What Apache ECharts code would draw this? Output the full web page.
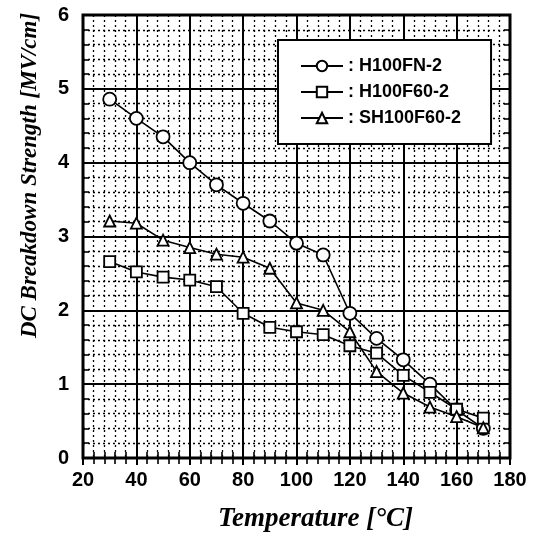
<!DOCTYPE html>
<html>
<head>
<meta charset="utf-8">
<script src="https://cdn.jsdelivr.net/npm/echarts@6/dist/echarts.min.js"></script>
<style>
  html, body { margin: 0; padding: 0; background: #fff; }
  #chart { width: 542px; height: 539px; }
</style>
</head>
<body>
<div id="chart"></div>
<script>
  // temperature [°C]
  var temps = [30, 40, 50, 60, 70, 80, 90, 100, 110, 120, 130, 140, 150, 160, 170];
  // DC breakdown strength [MV/cm]
  var h100fn = [4.86, 4.6, 4.35, 4.0, 3.7, 3.45, 3.21, 2.91, 2.75, 1.96, 1.62, 1.33, 1.0, 0.65, 0.4];
  var h100f60 = [2.66, 2.52, 2.45, 2.41, 2.32, 1.96, 1.77, 1.71, 1.67, 1.52, 1.42, 1.12, 0.89, 0.66, 0.54];
  var sh100f60 = [3.21, 3.18, 2.95, 2.85, 2.76, 2.72, 2.57, 2.1, 2.0, 1.71, 1.17, 0.88, 0.69, 0.56, 0.41];
  var names = ['H100FN-2', 'H100F60-2', 'SH100F60-2'];

  function pairs(ys) {
    return temps.map(function (t, i) { return [t, ys[i]]; });
  }

  var chart = echarts.init(document.getElementById('chart'));

  var tickFont = { fontFamily: 'Liberation Sans', fontWeight: 'bold', fontSize: 20, color: '#000' };
  var nameFont = { fontFamily: 'Liberation Serif', fontStyle: 'italic', fontWeight: 'bold', color: '#000' };

  function mkSeries(name, ys, symbol, size) {
    return {
      name: name,
      type: 'line',
      data: pairs(ys),
      symbol: symbol,
      symbolSize: size,
      lineStyle: { color: '#000', width: 1.6 },
      itemStyle: { color: '#fff', borderColor: '#000', borderWidth: 1.8 },
      z: 5
    };
  }

  var inTick = { show: true, inside: true, length: 7, lineStyle: { color: '#000', width: 2 } };
  var inMinor = { show: true, splitNumber: 5, length: 6, lineStyle: { color: '#000', width: 1.6 } };

  chart.setOption({
    animation: false,
    grid: {
      left: 83, right: 32, top: 15, bottom: 81,
      show: true, borderColor: '#000', borderWidth: 3
    },
    legend: {
      orient: 'vertical',
      left: 278, top: 40,
      padding: [17, 30, 17, 22],
      itemGap: 8,
      itemWidth: 42,
      itemHeight: 13,
      backgroundColor: '#fff',
      borderColor: '#000',
      borderWidth: 2,
      data: names,
      formatter: function (n) { return ': ' + n; },
      textStyle: { fontFamily: 'Liberation Sans', fontWeight: 'bold', fontSize: 18, color: '#000' },
      z: 10
    },
    xAxis: [{
      type: 'value',
      min: 20, max: 180, interval: 20,
      name: 'Temperature [°C]',
      nameLocation: 'middle',
      nameGap: 48,
      nameTextStyle: Object.assign({ fontSize: 27, padding: [0, 0, 0, 38] }, nameFont),
      axisLine: { show: false },
      axisTick: inTick,
      minorTick: inMinor,
      axisLabel: Object.assign({ margin: 12 }, tickFont),
      splitLine: { show: true, lineStyle: { color: '#000', width: 2 } },
      minorSplitLine: { show: true, lineStyle: { color: '#000', width: 1.3, type: [2, 3] } }
    }, {
      type: 'value', position: 'top',
      min: 20, max: 180, interval: 20,
      axisLine: { show: false },
      axisTick: inTick,
      minorTick: inMinor,
      axisLabel: { show: false },
      splitLine: { show: false }
    }],
    yAxis: [{
      type: 'value',
      min: 0, max: 6, interval: 1,
      name: 'DC Breakdown Strength [MV/cm]',
      nameLocation: 'middle',
      nameGap: 41,
      nameTextStyle: Object.assign({ fontSize: 23, padding: [0, 0, 0, 122] }, nameFont),
      axisLine: { show: false },
      axisTick: inTick,
      minorTick: inMinor,
      axisLabel: Object.assign({ margin: 14 }, tickFont),
      splitLine: { show: true, lineStyle: { color: '#000', width: 2 } },
      minorSplitLine: { show: true, lineStyle: { color: '#000', width: 1.3, type: [2, 3] } }
    }, {
      type: 'value', position: 'right',
      min: 0, max: 6, interval: 1,
      axisLine: { show: false },
      axisTick: inTick,
      minorTick: inMinor,
      axisLabel: { show: false },
      splitLine: { show: false }
    }],
    series: [
      mkSeries(names[0], h100fn, 'circle', 13),
      mkSeries(names[1], h100f60, 'rect', 11),
      mkSeries(names[2], sh100f60, 'triangle', 11)
    ]
  });
</script>
</body>
</html>
